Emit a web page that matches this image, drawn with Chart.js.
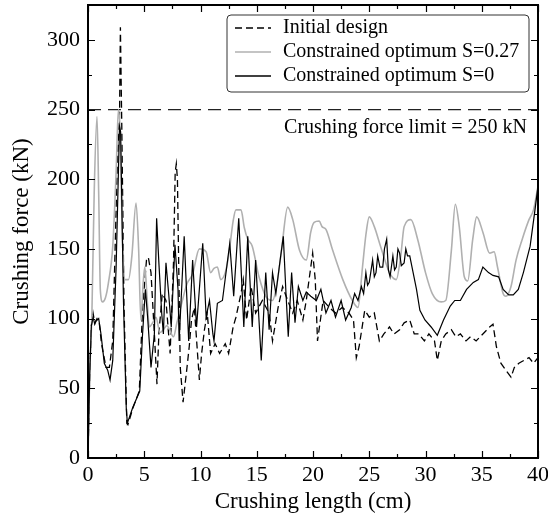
<!DOCTYPE html>
<html>
<head>
<meta charset="utf-8">
<script src="https://cdn.jsdelivr.net/npm/chart.js@4/dist/chart.umd.min.js"></script>
<style>
html,body{margin:0;padding:0;background:#fff;}
canvas{display:block;}
</style>
</head>
<body>
<canvas id="c" width="548" height="519"></canvas>
<script>
// ---- data ----
const initialX = [0,0.15,0.3,0.45,0.6,0.8,1.0,1.2,1.6,1.9,2.2,2.6,2.8,2.88,3.0,3.2,3.45,3.55,4.0,4.56,4.85,5.2,5.36,5.6,5.9,6.13,6.3,6.6,6.93,7.3,7.6,7.75,7.85,7.95,8.2,8.45,8.8,9.0,9.2,9.45,9.9,10.1,10.35,10.6,10.9,11.3,11.7,12.2,12.5,12.9,13.15,13.6,13.8,14.1,14.5,14.9,15.5,16.1,16.4,16.9,17.3,17.75,18.2,18.6,19.1,19.4,19.97,20.2,20.4,20.9,21.45,22.0,22.6,23.2,23.6,23.85,24.1,24.6,25.0,25.45,25.9,26.3,26.8,27.2,27.7,28.1,28.6,29.0,29.4,29.9,30.3,30.8,31.05,31.4,31.8,32.3,32.7,33.1,33.6,34.0,34.5,35.1,35.7,36.0,36.3,36.7,37.15,37.6,37.9,38.3,38.75,39.2,39.6,40];
const initialY = [0,60,95,104,97,100,97,82,65,65,84,210,243,309,240,110,25,24,36,48,108,142,144,133,89,53,89,118,113,75,140,205,211,200,65,40,65,80,99,108,56,75,92,104,75,82,75,82,75,94,101,118,128,99,123,104,113,104,84,108,123,113,104,113,99,113,147,128,84,113,108,104,108,104,99,72,80,106,101,104,84,89,94,89,92,97,99,89,89,84,89,84,70,84,89,92,87,89,84,87,84,89,94,96,80,68,63,58,65,68,70,72,68,72];

const s027X = [0,0.15,0.35,0.55,0.8,0.95,1.1,1.3,1.55,1.8,2.2,2.5,2.7,2.85,3.05,3.3,3.6,3.9,4.27,4.5,4.7,4.9,5.05,5.25,5.45,5.75,6.04,6.4,6.7,7.0,7.6,7.9,8.3,8.8,9.3,9.9,10.5,10.9,11.2,11.5,11.8,12.2,12.5,12.9,13.15,13.6,13.9,14.2,14.6,15.2,15.8,16.4,16.8,17.2,17.75,18.2,18.8,19.4,19.8,20.1,20.55,20.8,21.15,21.75,22.65,23.5,24.0,24.4,24.7,25.0,25.45,26.0,26.8,27.4,27.8,28.1,28.7,29.3,30.0,30.6,31.4,31.8,32.3,32.65,33.0,33.45,33.75,34.2,34.55,35.1,35.7,36.1,36.4,36.9,37.15,37.6,38.05,38.6,39.2,39.6,40];
const s027Y = [0,60,105,190,245,190,120,112,115,125,152,205,250,235,160,128,128,145,183,150,99,125,137,115,94,97,101,90,92,95,87,97,110,125,132,150,148,133,136,137,128,133,145,170,178,178,165,157,152,130,116,113,125,149,180,171,149,142,162,169,170,166,164,149,128,113,108,137,160,173,166,152,133,128,145,166,171,157,133,118,112,113,149,182,166,130,127,157,173,162,147,148,137,118,116,123,142,157,171,178,195];

const s0X = [0,0.15,0.3,0.45,0.6,0.7,0.95,1.15,1.45,1.75,1.96,2.2,2.5,2.8,2.9,3.15,3.4,3.5,3.97,4.6,4.85,5.1,5.3,5.6,5.9,6.1,6.3,6.55,6.7,6.93,7.17,7.4,7.73,8.0,8.1,8.55,8.95,9.3,9.65,10.2,10.5,10.8,11.1,11.2,11.5,11.95,12.6,12.95,13.4,13.85,14.2,14.6,14.9,15.4,15.8,16.1,16.4,16.7,17.0,17.36,17.6,17.8,18.1,18.4,18.7,19.1,19.4,19.8,20.3,20.7,21.15,21.6,22.0,22.5,22.9,23.4,23.7,24.0,24.3,24.5,24.7,24.85,25.0,25.3,25.45,25.6,25.75,25.95,26.2,26.35,26.55,26.7,26.85,27.1,27.25,27.4,27.55,27.7,27.85,28.1,28.25,28.4,28.6,28.9,29.2,29.5,29.95,30.5,31.05,31.6,32.2,32.6,33.1,33.65,34.25,34.7,35.1,35.6,36.0,36.5,36.9,37.4,37.8,38.25,38.7,39.3,39.7,40];
const s0Y = [0,60,95,101,96,98,100,89,68,63,56,70,137,238,234,113,36,25,36,48,89,121,101,65,89,172,140,104,89,140,118,94,153,121,84,159,84,142,94,154,101,113,89,84,111,113,154,116,172,94,159,94,142,70,133,92,133,118,137,159,118,87,133,97,123,113,119,116,113,121,104,113,101,113,99,108,118,113,123,118,133,124,126,142,130,133,145,137,137,150,157,135,130,145,135,137,150,147,138,140,150,145,145,133,121,106,99,94,88,99,109,113,113,121,126,128,137,133,131,130,121,117,117,121,133,152,176,195];

const limitValue = 250;
const limitX = [0, 40];
const xTickLabels = ['0','5','10','15','20','25','30','35','40'];
const yTickLabels = ['0','50','100','150','200','250','300'];
const seriesNames = ['Initial design', 'Constrained optimum S=0.27', 'Constrained optimum S=0'];
const limitLabel = 'Crushing force limit = 250 kN';

// ---- helpers ----
const pts = (xs, ys) => xs.map((x, i) => ({x: x, y: ys[i]}));
const SERIF = '"Liberation Serif", "Times New Roman", serif';
const GRAY = 'rgb(176,176,176)';

const framePlugin = {
  id: 'frame',
  afterDraw(chart) {
    const {ctx, chartArea: a, scales: {x, y}} = chart;
    ctx.save();
    ctx.strokeStyle = '#000';
    ctx.lineWidth = 1.2;
    ctx.beginPath();
    for (let v = 0; v <= 40.001; v += 2.5) {
      const px = Math.round(x.getPixelForValue(v)) + 0.5;
      const len = (Math.abs(v / 5 - Math.round(v / 5)) < 1e-6) ? 7 : 4;
      ctx.moveTo(px, a.bottom); ctx.lineTo(px, a.bottom - len);
      ctx.moveTo(px, a.top); ctx.lineTo(px, a.top + len);
    }
    for (let v = 0; v <= 325.001; v += 25) {
      const py = Math.round(y.getPixelForValue(v)) + 0.5;
      const len = (v % 50 === 0) ? 7 : 4;
      ctx.moveTo(a.left, py); ctx.lineTo(a.left + len, py);
      ctx.moveTo(a.right, py); ctx.lineTo(a.right - len, py);
    }
    ctx.stroke();
    ctx.lineWidth = 2;
    ctx.strokeRect(a.left, a.top, a.right - a.left, a.bottom - a.top);

    ctx.fillStyle = '#000';
    ctx.font = '20px ' + SERIF;
    ctx.textAlign = 'right';
    ctx.textBaseline = 'middle';
    ctx.fillText(limitLabel, a.right - 11, y.getPixelForValue(limitValue) + 18);

    const bx = 227, by = 15, bw = 302, bh = 77, r = 4;
    ctx.beginPath();
    ctx.moveTo(bx + r, by);
    ctx.arcTo(bx + bw, by, bx + bw, by + bh, r);
    ctx.arcTo(bx + bw, by + bh, bx, by + bh, r);
    ctx.arcTo(bx, by + bh, bx, by, r);
    ctx.arcTo(bx, by, bx + bw, by, r);
    ctx.closePath();
    ctx.fillStyle = '#fff';
    ctx.fill();
    ctx.lineWidth = 1;
    ctx.strokeStyle = '#333';
    ctx.stroke();
    const rows = [28, 52, 76];
    const styles = [
      {c: '#000', w: 1.3, d: [7, 4]},
      {c: GRAY, w: 1.6, d: []},
      {c: '#000', w: 1.3, d: []}
    ];
    rows.forEach((ry, i) => {
      ctx.beginPath();
      ctx.setLineDash(styles[i].d);
      ctx.strokeStyle = styles[i].c;
      ctx.lineWidth = styles[i].w;
      ctx.moveTo(235, ry); ctx.lineTo(271, ry);
      ctx.stroke();
      ctx.setLineDash([]);
      ctx.fillStyle = '#000';
      ctx.textAlign = 'left';
      ctx.textBaseline = 'middle';
      ctx.fillText(seriesNames[i], 283, ry);
    });
    ctx.restore();
  }
};

new Chart(document.getElementById('c'), {
  type: 'line',
  data: {
    datasets: [
      {label: 'limit', data: pts(limitX, limitX.map(() => limitValue)), borderColor: '#222', borderWidth: 1.3, borderDash: [13, 7], order: 4},
      {label: seriesNames[0], data: pts(initialX, initialY), borderColor: '#000', borderWidth: 1.3, borderDash: [7, 4], order: 3},
      {label: seriesNames[1], data: pts(s027X, s027Y), borderColor: GRAY, borderWidth: 1.6, cubicInterpolationMode: 'monotone', order: 2},
      {label: seriesNames[2], data: pts(s0X, s0Y), borderColor: '#000', borderWidth: 1.2, order: 1}
    ]
  },
  options: {
    responsive: false,
    animation: false,
    events: [],
    layout: {padding: {top: 5, right: 10, left: 0, bottom: 0}},
    elements: {point: {radius: 0}, line: {tension: 0, fill: false}},
    plugins: {legend: {display: false}, tooltip: {enabled: false}},
    scales: {
      x: {
        type: 'linear', min: 0, max: 40,
        grid: {display: false, drawTicks: false},
        border: {display: false},
        ticks: {stepSize: 5, color: '#000', font: {family: SERIF, size: 22}, padding: 4, maxRotation: 0,
                callback: (v) => xTickLabels[Math.round(v / 5)]},
        title: {display: true, text: 'Crushing length (cm)', color: '#000', font: {family: SERIF, size: 23}, padding: {top: 0, bottom: 3}},
        afterFit: (s) => { s.height = 61; s.paddingLeft = 0; s.paddingRight = 0; }
      },
      y: {
        type: 'linear', min: 0, max: 325,
        grid: {display: false, drawTicks: false},
        border: {display: false},
        ticks: {stepSize: 50, color: '#000', font: {family: SERIF, size: 22}, padding: 8,
                callback: (v) => yTickLabels[Math.round(v / 50)]},
        afterBuildTicks: (s) => { s.ticks = s.ticks.filter(t => t.value % 50 === 0); },
        title: {display: true, text: 'Crushing force (kN)', color: '#000', font: {family: SERIF, size: 23}, padding: {top: 8, bottom: 0}},
        afterFit: (s) => { s.width = 88; s.paddingTop = 0; s.paddingBottom = 0; }
      }
    }
  },
  plugins: [framePlugin]
});
</script>
</body>
</html>
